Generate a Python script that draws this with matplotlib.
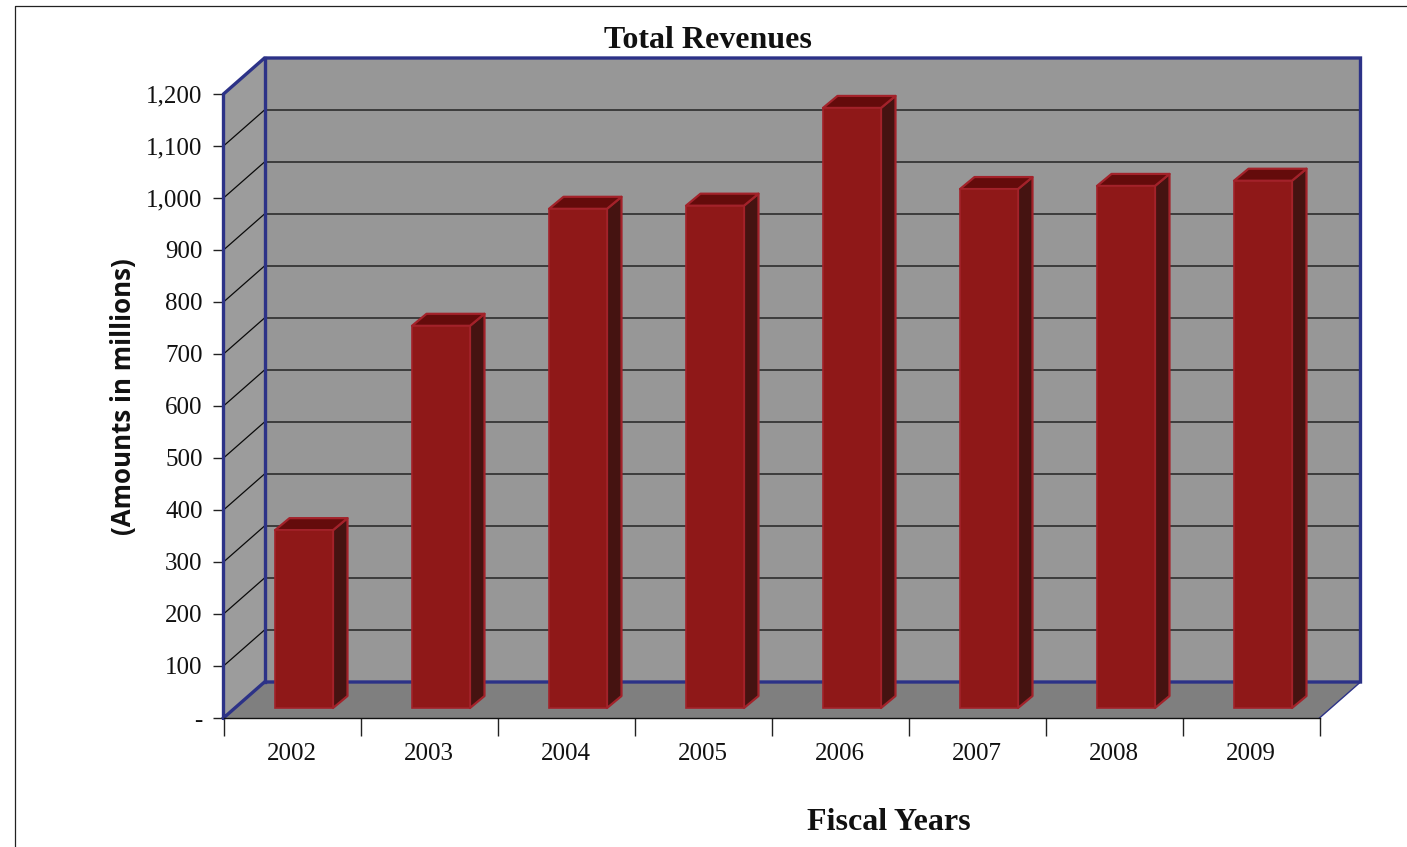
import matplotlib
matplotlib.use("Agg")
import matplotlib.pyplot as plt
from matplotlib.patches import Polygon, Rectangle

years = ["2002", "2003", "2004", "2005", "2006", "2007", "2008", "2009"]
revenues = [342, 735, 960, 966, 1154, 998, 1004, 1014]
y_ticks = [0, 100, 200, 300, 400, 500, 600, 700, 800, 900, 1000, 1100, 1200]
y_labels = ["-", "100", "200", "300", "400", "500", "600", "700", "800", "900", "1,000", "1,100", "1,200"]

W, H = 1407, 847
# front plane of the box, in pixels
left, right, top, bottom = 223.5, 1319.5, 94, 718

BLUE = "#2c3287"
WALL = "#979797"
SIDE = "#9c9c9c"
FLOOR = "#7f7f7f"
RED = "#8f1818"
RED_EDGE = "#a3222a"
RED_SIDE = "#451311"
RED_TOP = "#640b0b"

fig = plt.figure(figsize=(W / 100, H / 100), dpi=100)
ax = fig.add_axes([left / W, 1 - bottom / H, (right - left) / W, (bottom - top) / H])
ax.set_xlim(0, len(years))
ax.set_ylim(0, 1200)

# sizes of the fake 3d, converted from px to data units
sx = len(years) / (right - left)
sy = 1200 / (bottom - top)
dx = 41 * sx
dy = 36 * sy
n = len(years)

kw = dict(clip_on=False)
ax.add_patch(Polygon([(dx, dy), (n + dx, dy), (n + dx, 1200 + dy), (dx, 1200 + dy)], fc=WALL, ec="none", zorder=1, **kw))
ax.add_patch(Polygon([(0, 0), (dx, dy), (dx, 1200 + dy), (0, 1200)], fc=SIDE, ec="none", zorder=1, **kw))
ax.add_patch(Polygon([(0, 0), (n, 0), (n + dx, dy), (dx, dy)], fc=FLOOR, ec="none", zorder=1, **kw))

# gridlines on back wall and side wall
for t in y_ticks[1:-1]:
    ax.plot([0, dx, n + dx], [t, t + dy, t + dy], color="#0a0a0a", lw=0.9, zorder=2, **kw)

# box outline
ax.plot([0, 0, dx, n + dx, n + dx, dx, 0], [0, 1200, 1200 + dy, 1200 + dy, dy, dy, 0],
        color=BLUE, lw=2.4, zorder=3, solid_joinstyle="miter", **kw)
ax.plot([dx, dx], [dy, 1200 + dy], color=BLUE, lw=2.4, zorder=3, **kw)
ax.plot([n, n + dx], [0, dy], color=BLUE, lw=1.0, zorder=3, **kw)

# bars
bar_w = 58 * sx
off_x = 51.5 * sx
base = 10 * sy
bx = 14.5 * sx
by = 12 * sy
for i, v in enumerate(revenues):
    x0 = i + off_x
    x1 = x0 + bar_w
    y0 = base
    y1 = base + v
    ax.add_patch(Polygon([(x1, y0), (x1 + bx, y0 + by), (x1 + bx, y1 + by), (x1, y1)],
                         fc=RED_SIDE, ec=RED_EDGE, lw=1.6, zorder=4, joinstyle="round", **kw))
    ax.add_patch(Polygon([(x0, y1), (x1, y1), (x1 + bx, y1 + by), (x0 + bx, y1 + by)],
                         fc=RED_TOP, ec=RED_EDGE, lw=1.6, zorder=4, joinstyle="round", **kw))
    ax.add_patch(Rectangle((x0, y0), bar_w, v, fc=RED, ec=RED_EDGE, lw=1.2, zorder=5, **kw))

# axes and ticks
for s in ["top", "right", "left"]:
    ax.spines[s].set_visible(False)
ax.spines["bottom"].set_color("#111111")
ax.spines["bottom"].set_linewidth(1.0)
ax.spines["bottom"].set_zorder(6)
ax.patch.set_visible(False)

serif = "Liberation Serif"
ax.set_yticks(y_ticks)
ax.set_yticklabels(y_labels, fontsize=18, family=serif, color="#111111")
ax.tick_params(axis="y", length=8, width=1.0, pad=7, color="#222222")
ax.set_xticks(range(n + 1))
ax.set_xticklabels([])
ax.tick_params(axis="x", length=13, width=1.0, color="#222222")
ax.set_xticks([i + 0.5 for i in range(n)], minor=True)
ax.set_xticklabels(years, minor=True, fontsize=18, family=serif, color="#111111")
ax.tick_params(axis="x", which="minor", length=0, pad=18)

fig.text(708 / W, 1 - 41 / H, "Total Revenues", ha="center", va="center",
         fontsize=23, family=serif, fontweight="bold", color="#111111")
fig.text(889 / W, 1 - 822 / H, "Fiscal Years", ha="center", va="center",
         fontsize=23, family=serif, fontweight="bold", color="#111111")
fig.text(123 / W, 1 - 397 / H, "(Amounts in millions)", ha="center", va="center", rotation=90,
         fontsize=18.6, family="Open Sans", fontweight="bold", color="#111111")

# outer frame of the chart, cut by the image edge
fig.add_artist(plt.Line2D([15 / W, 15 / W, 1], [0, 1 - 6.5 / H, 1 - 6.5 / H], color="#222222", lw=0.9))

fig.savefig("out.png", dpi=100)
